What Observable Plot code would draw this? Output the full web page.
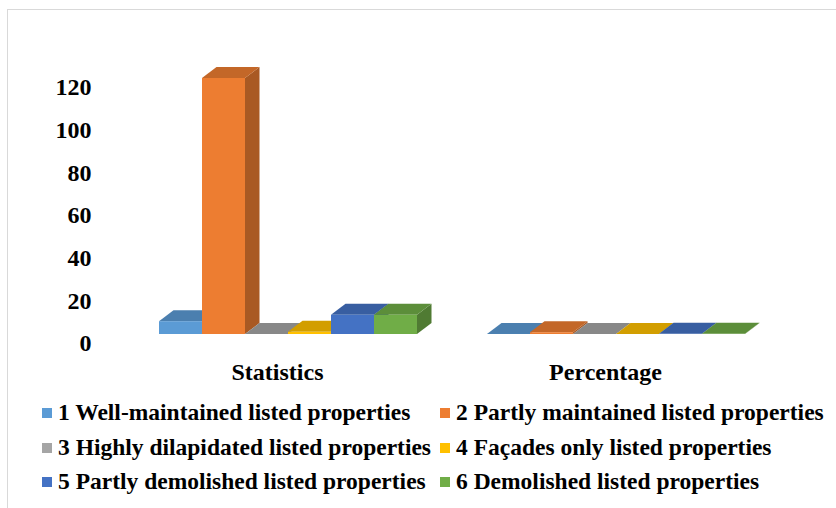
<!DOCTYPE html>
<html><head><meta charset="utf-8">
<script src="https://cdn.jsdelivr.net/npm/d3@7"></script>
<script src="https://cdn.jsdelivr.net/npm/@observablehq/plot@0.6"></script>
<style>
body{margin:0;background:#fff;font-family:"Liberation Serif","Times New Roman",serif;}
#wrap{position:relative;width:836px;height:508px;overflow:hidden;background:#fff;}
#frame{position:absolute;left:7px;top:9px;width:900px;height:600px;border-top:1px solid #d9d9d9;border-left:1px solid #d9d9d9;}
#chart{position:absolute;left:0;top:0;}
.lg{position:absolute;font-family:"Liberation Serif","Times New Roman",serif;font-weight:bold;font-size:23.5px;color:#000;white-space:nowrap;line-height:24px;}
.lg span.sw{display:inline-block;width:10px;height:10px;margin-right:6px;vertical-align:middle;position:relative;top:-2px;}
</style></head>
<body>
<div id="wrap"><div id="frame"></div><div id="chart"></div><div id="legend"></div></div>
<script>
const groups = ["Statistics", "Percentage"];
const series = [
  "1 Well-maintained listed properties",
  "2 Partly maintained listed properties",
  "3 Highly dilapidated listed properties",
  "4 Façades only listed properties",
  "5 Partly demolished listed properties",
  "6 Demolished listed properties"
];
const statistics = [6, 120, 0, 1, 9, 9];
const percentage = [0.04, 0.83, 0, 0.01, 0.06, 0.06];
const colors = ["#5b9bd5", "#ed7d31", "#a5a5a5", "#ffc000", "#4472c4", "#70ad47"];
const yTicks = [0, 20, 40, 60, 80, 100, 120];

const data = [];
series.forEach((s, i) => data.push({group: groups[0], series: s, value: statistics[i]}));
series.forEach((s, i) => data.push({group: groups[1], series: s, value: percentage[i]}));

const DX = 14.5, DY = 11;
function bars3d(index, scales, values) {
  const bw = scales.x.bandwidth();
  const g = d3.create("svg:g");
  for (const i of index) {
    const x0 = values.x[i], x1 = x0 + bw;
    const yb = values.y1[i], yt = values.y2[i];
    const c = d3.color(values.fill[i]);
    g.append("path")
      .attr("d", `M${x1},${yb}L${x1 + DX},${yb - DY}L${x1 + DX},${yt - DY}L${x1},${yt}Z`)
      .attr("fill", c.darker(0.95).formatHex());
    g.append("path")
      .attr("d", `M${x0},${yt}L${x0 + DX},${yt - DY}L${x1 + DX},${yt - DY}L${x1},${yt}Z`)
      .attr("fill", c.darker(0.55).formatHex());
    g.append("rect")
      .attr("x", x0).attr("y", yt).attr("width", bw).attr("height", Math.max(0, yb - yt))
      .attr("fill", c.formatHex());
  }
  return g.node();
}

const plot = Plot.plot({
  width: 836,
  height: 395,
  marginLeft: 156,
  marginRight: 88,
  marginTop: 78,
  marginBottom: 61,
  style: {fontFamily: "'Liberation Serif','Times New Roman',serif", fontWeight: "bold", color: "#000", background: "transparent", overflow: "visible"},
  fx: {domain: groups, paddingInner: 0.2, paddingOuter: 0},
  x: {domain: series, padding: 0, axis: null},
  y: {domain: [0, 120], axis: null},
  color: {domain: series, range: colors},
  marks: [
    Plot.barY(data, {fx: "group", x: "series", y: "value", fill: "series", render: bars3d}),
    Plot.axisY({ticks: yTicks, tickSize: 0, tickPadding: 66, dy: 9, fontSize: 24, label: null, tickFormat: d => String(d)}),
    Plot.axisFx({anchor: "bottom", tickSize: 0, tickPadding: 28, dx: -11, fontSize: 24, label: null})
  ]
});
document.getElementById("chart").appendChild(plot);

const legend = document.getElementById("legend");
const colX = [42, 440];
const rowY = [412, 447, 481];
series.forEach((s, i) => {
  const d = document.createElement("div");
  d.className = "lg";
  d.style.left = colX[i % 2] + "px";
  d.style.top = (rowY[Math.floor(i / 2)] - 12) + "px";
  const sw = document.createElement("span");
  sw.className = "sw";
  sw.style.background = colors[i];
  d.appendChild(sw);
  d.appendChild(document.createTextNode(s));
  legend.appendChild(d);
});
</script>
</body></html>
